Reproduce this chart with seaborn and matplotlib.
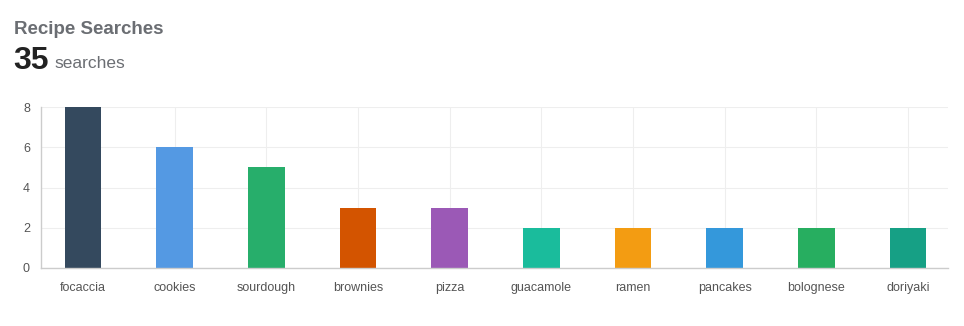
import matplotlib
matplotlib.use("Agg")
import matplotlib.pyplot as plt
import seaborn as sns
import pandas as pd

categories = ["focaccia", "cookies", "sourdough", "brownies", "pizza",
              "guacamole", "ramen", "pancakes", "bolognese", "doriyaki"]
values = [8, 6, 5, 3, 3, 2, 2, 2, 2, 2]
colors = ["#34495e", "#5499e3", "#27ae6b", "#d35400", "#9b59b6",
          "#1abc9c", "#f39c12", "#3498db", "#27ae60", "#16a085"]
total_label = "35"
unit_label = "searches"
title = "Recipe Searches"
yticks = [0, 2, 4, 6, 8]

sns.set_theme(style="white")
plt.rcParams["font.family"] = ["Liberation Sans", "DejaVu Sans"]

df = pd.DataFrame({"recipe": categories, "count": values})

fig = plt.figure(figsize=(9.64, 3.26), dpi=100)
ax = fig.add_axes([41/964, 1 - 268/326, 907/964, 161/326])

sns.barplot(data=df, x="recipe", y="count", hue="recipe", palette=colors,
            width=0.4, legend=False, ax=ax, saturation=1, linewidth=0)

ax.set_xlim(-0.458, 9.437)
ax.set_ylim(0, 8)
ax.set_yticks(yticks)
ax.set_xlabel("")
ax.set_ylabel("")

ax.grid(True, axis="both", color="#eeeeee", linewidth=0.8)
ax.set_axisbelow(True)
for s in ["top", "right"]:
    ax.spines[s].set_visible(False)
for s in ["left", "bottom"]:
    ax.spines[s].set_color("#cccccc")
    ax.spines[s].set_linewidth(1)

ax.tick_params(axis="both", colors="#555555", labelsize=9, length=5,
               width=0.8, direction="out")
ax.tick_params(axis="x", color="#cccccc", pad=5)
ax.tick_params(axis="y", color="#cccccc", pad=3)
for lab in ax.get_xticklabels() + ax.get_yticklabels():
    lab.set_color("#555555")

fig.text(14/964, 1 - 29.5/326, title, fontsize=13.5, fontweight="bold",
         color="#6b6e73", va="center", ha="left")
fig.text(13/964, 1 - 61/326, total_label, fontsize=23, fontweight="bold",
         color="#222222", va="center", ha="left")
fig.text(54/964, 1 - 64/326, unit_label, fontsize=12.5, color="#6b6e73",
         va="center", ha="left")

fig.savefig("out.png", dpi=100)
